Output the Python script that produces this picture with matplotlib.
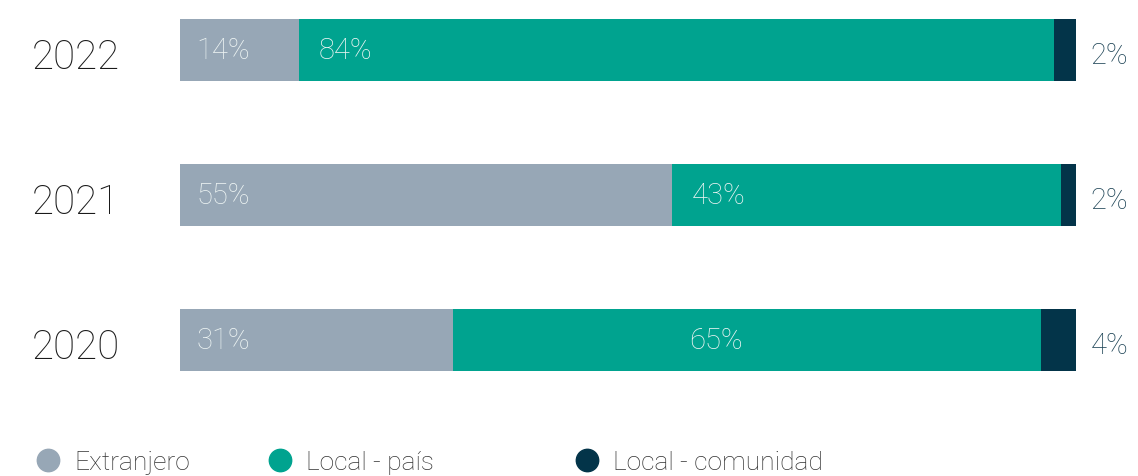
import matplotlib.pyplot as plt

# Data (bar widths as measured, labels as printed)
years = ['2020', '2021', '2022']
extranjero = [30.5, 54.9, 13.3]
local_pais = [65.6, 43.4, 84.2]
local_comunidad = [3.9, 1.7, 2.5]
labels_extranjero = ['31%', '55%', '14%']
labels_pais = ['65%', '43%', '84%']
labels_comunidad = ['4%', '2%', '2%']

series_names = ['Extranjero', 'Local - país', 'Local - comunidad']
colors = ['#97a7b6', '#00a38f', '#033449']

plt.rcParams['font.family'] = ['Roboto', 'DejaVu Sans']
weight = 'light'

fig = plt.figure(figsize=(11.38, 4.76), dpi=100)
ax = fig.add_axes([0, 0, 1, 1])

# pixel mapping: 0..100 -> 180..1076 px, rows 145 px apart
ax.set_xlim(-180 / 8.96, (1138 - 180) / 8.96)
ax.set_ylim(-136 / 145, (476 - 136) / 145)
ax.axis('off')

ypos = list(range(len(years)))
bar_h = 62 / 145

ax.barh(ypos, extranjero, height=bar_h, color=colors[0])
left2 = extranjero
ax.barh(ypos, local_pais, left=left2, height=bar_h, color=colors[1])
left3 = [a + b for a, b in zip(extranjero, local_pais)]
ax.barh(ypos, local_comunidad, left=left3, height=bar_h, color=colors[2])

label_color = '#eef5f4'
for i, y in enumerate(ypos):
    ax.text(-16.6, y - 0.055, years[i], ha='left', va='center', fontsize=29,
            color='#1a1a1a', fontweight=weight)
    ax.text(1.8, y - 0.01, labels_extranjero[i], ha='left', va='center', fontsize=21,
            color=label_color, fontweight=weight)
    mid_x = left2[i] + 2.2
    if years[i] == '2020':
        # aligned with the 2021 label in the original
        mid_x = left2[1] + 1.9
    ax.text(mid_x, y - 0.01, labels_pais[i], ha='left', va='center', fontsize=21,
            color=label_color, fontweight=weight)
    ax.text(101.6, y - 0.04, labels_comunidad[i], ha='left', va='center', fontsize=21,
            color='#1f4557', fontweight=weight)

# Legend
leg_y = (16 - 136) / 145
marker_x = [(48 - 180) / 8.96, (280 - 180) / 8.96, (587 - 180) / 8.96]
for name, c, mx in zip(series_names, colors, marker_x):
    ax.scatter([mx], [leg_y], s=260, color=c, clip_on=False)
    ax.text(mx + 2.9, leg_y - 0.02, name, ha='left', va='center', fontsize=19,
            color='#333333', fontweight=weight)

fig.savefig('out.png', dpi=100)
